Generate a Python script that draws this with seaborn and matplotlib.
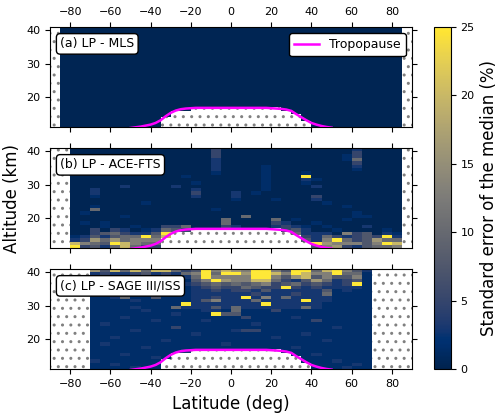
import numpy as np
import matplotlib
matplotlib.use('Agg')
import matplotlib.pyplot as plt
from matplotlib.patches import Rectangle
import seaborn as sns

# grid: 5 deg latitude bins (-90..90), 1 km altitude bins (11..41)
lat_edges = np.arange(-90, 91, 5)
alt_edges = np.arange(11, 42, 1)

# colour level of each cell, '.' = no data
level_values = {'0': 0.3, '1': 1.5, '2': 3, '3': 5, '4': 7.5, '5': 10,
                '6': 13, '7': 16, '8': 20, '9': 25, '.': np.nan}

# rows from 40-41 km (top) down to 11-12 km (bottom)
mls_rows = [
    ".0000 00000 00000 00000 00000 00000 00000 .",
    ".0000 00000 00000 00000 00000 00000 00000 .",
    ".0000 00000 00000 00000 00000 00000 00000 .",
    ".0000 00000 00000 00000 00000 00000 00000 .",
    ".0000 00000 00000 00000 00000 00000 00000 .",
    ".0000 00000 00000 00000 00000 00000 00000 .",
    ".0000 00000 00000 00000 00000 00000 00000 .",
    ".0000 00000 00000 00000 00000 00000 00000 .",
    ".0000 00000 00000 00000 00000 00000 00000 .",
    ".0000 00000 00000 00000 00000 00000 00000 .",
    ".0000 00000 00000 00000 00000 00000 00000 .",
    ".0000 00000 00000 00000 00000 00000 00000 .",
    ".0000 00000 00000 00000 00000 00000 00000 .",
    ".0000 00000 00000 00000 00000 00000 00000 .",
    ".0000 00000 00000 00000 00000 00000 00000 .",
    ".0000 00000 00000 00000 00000 00000 00000 .",
    ".0000 00000 00000 00000 00000 00000 00000 .",
    ".0000 00000 00000 00000 00000 00000 00000 .",
    ".0000 00000 00000 00000 00000 00000 00000 .",
    ".0000 00000 00000 00000 00000 00000 00000 .",
    ".0000 00000 00000 00000 00000 00000 00000 .",
    ".0000 00000 00000 00000 00000 00000 00000 .",
    ".0000 00000 00000 00000 00000 00000 00000 .",
    ".0000 00000 00000 00000 00000 00000 00000 .",
    ".0000 00000 00000 00000 00000 00000 00000 .",
    ".0000 00000 00000 00000 00000 00000 00000 .",
    ".0000 00000 00000 00000 00000 00000 00000 .",
    ".0000 00000 00000 00000 00000 00000 00000 .",
    ".0000 00000 00000 00000 00000 00000 00000 .",
    ".0000 00000 00000 00000 00000 00000 00000 .",
]

ace_rows = [
    "..000 00000 00000 03000 00000 00000 20000 .",
    "..000 00000 00000 03000 00000 00000 30000 .",
    "..000 00000 00000 03000 00000 00001 30000 .",
    "..000 00000 00000 02000 00000 00001 50000 .",
    "..000 00000 00000 02000 00000 00000 30000 .",
    "..000 00000 00000 02000 01000 00000 20000 .",
    "..000 00000 00000 02000 01000 00000 10000 .",
    "..000 00000 00000 01000 01000 10000 00000 .",
    "..000 00000 00010 00000 01000 90000 00000 .",
    "..000 00000 00000 00000 01000 21000 00000 .",
    "..000 00000 00001 00000 01000 10000 00000 .",
    "..000 00200 00200 00000 01000 02000 00000 .",
    "..002 00000 00002 00000 01000 00000 00000 .",
    "..002 00000 00003 00020 10000 00000 00000 .",
    "..001 00000 00002 00020 00000 03000 00000 .",
    "..000 00000 00000 00010 00100 02000 00000 .",
    "..000 00001 00000 00000 00000 00100 00000 .",
    "..001 00000 00000 00000 00000 00001 00000 .",
    "..005 00000 00000 01000 00000 00000 00000 .",
    "..010 00000 00000 00000 00000 00000 10000 .",
    "..000 00100 00000 00005 00000 00000 11000 .",
    "..000 00000 00000 00500 00501 00001 00000 .",
    "..010 10000 00000 00500 00320 01000 00000 .",
    "..000 10010 03350 00320 00232 10100 02000 .",
    "..003 03201 25430 00000 00034 20010 00010 .",
    "..003 45322 49000 00000 00005 22206 34021 .",
    "..124 24559 58000 00000 00000 32532 34392 .",
    "..237 57566 60000 00000 00000 42695 34755 .",
    "..865 49865 50000 00000 00000 09766 64698 .",
    "..934 25853 30000 00000 00000 04673 24556 .",
]

sage_rows = [
    "....7 48585 88534 96876 99649 95896 42... .",
    "....2 32234 23256 95997 99869 86695 51... .",
    "....1 12122 12225 96666 99647 84644 61... .",
    "....1 11112 11114 69766 88532 47523 41... .",
    "....1 11111 11123 45454 56345 34323 91... .",
    "....1 11111 11112 34335 43393 23222 21... .",
    "....1 12111 11112 23233 24222 22412 11... .",
    "....1 11111 11112 22222 32223 22511 11... .",
    "....1 12511 41112 23229 26252 22211 11... .",
    "....1 11121 11112 46222 52222 92211 11... .",
    "....1 11111 11192 22222 29222 22111 11... .",
    "....1 11121 11522 24252 22222 52111 11... .",
    "....1 11112 11111 22151 11311 11111 11... .",
    "....1 11111 11211 19441 11111 11111 11... .",
    "....1 11211 11111 11113 11112 11111 11... .",
    "....1 11111 21111 21111 11111 13111 11... .",
    "....1 21111 11111 11111 21111 11111 11... .",
    "....1 11111 11311 11111 11111 11121 11... .",
    "....1 11121 11111 11123 31111 11111 11... .",
    "....1 11111 11112 11111 11111 21111 11... .",
    "....1 12111 11111 11111 11211 11111 11... .",
    "....1 11111 12111 11111 11111 11211 11... .",
    "....1 21111 11111 11211 11111 11111 11... .",
    "....1 11112 11111 11111 11112 11111 11... .",
    "....1 11111 11121 11111 11111 11111 11... .",
    "....1 11211 11111 11111 11111 12111 11... .",
    "....1 11111 21111 11111 11111 11111 11... .",
    "....2 11111 11111 11111 11111 11121 11... .",
    "....1 12111 11111 11111 11111 11111 21... .",
    "....1 11121 11111 11111 11111 11112 11... .",
]

# number of empty bins below the tropopause, per latitude bin
below_trop_rows = [0, 0, 0, 0, 0, 0, 0, 0, 0, 0, 0, 3, 5, 5, 6, 6, 6, 6,
                   6, 6, 6, 6, 6, 5, 4, 2, 0, 0, 0, 0, 0, 0, 0, 0, 0, 0]

trop_lat = [-50, -47.5, -45, -42.5, -40, -37.5, -35, -32.5, -30, -27.5, -25,
            -22.5, -20, -17.5, -15, -12.5, -10, -7.5, -5, -2.5, 0, 2.5, 5,
            7.5, 10, 12.5, 15, 17.5, 20, 22.5, 25, 27.5, 30, 32.5, 35, 37.5,
            40, 42.5, 45, 47.5, 50]
trop_alt = [10.8, 11.0, 11.2, 11.5, 11.8, 12.3, 13.1, 14.3, 15.3, 16.0, 16.4,
            16.6, 16.7, 16.8, 16.8, 16.8, 16.8, 16.8, 16.8, 16.8, 16.8, 16.8,
            16.8, 16.8, 16.8, 16.8, 16.8, 16.8, 16.7, 16.6, 16.5, 16.3, 15.9,
            14.9, 14.0, 13.1, 12.3, 11.8, 11.4, 11.1, 10.9]

panel_labels = ['(a) LP - MLS', '(b) LP - ACE-FTS', '(c) LP - SAGE III/ISS']


def decode(rows):
    grid = []
    for r in rows:
        r = r.replace(' ', '')
        assert len(r) == 36, r
        grid.append([level_values[c] for c in r])
    grid = np.array(grid)[::-1]  # bottom bin first
    for j, n in enumerate(below_trop_rows):
        grid[:n, j] = np.nan
    return grid


grids = [decode(mls_rows), decode(ace_rows), decode(sage_rows)]

plt.rcParams['hatch.color'] = 'grey'
plt.rcParams['hatch.linewidth'] = 1.0

fig = plt.figure(figsize=(5, 4.17), dpi=100)
rects = [[0.1, 0.6947, 0.724, 0.241],
         [0.1, 0.4046, 0.724, 0.241],
         [0.1, 0.1144, 0.724, 0.241]]

for i, (rect, grid, lab) in enumerate(zip(rects, grids, panel_labels)):
    ax = fig.add_axes(rect)
    ax.add_patch(Rectangle((0, 0), 1, 1, transform=ax.transAxes,
                           facecolor='white', edgecolor='grey', hatch='..',
                           linewidth=0, zorder=0))
    mesh = ax.pcolormesh(lat_edges, alt_edges, np.ma.masked_invalid(grid),
                         cmap='cividis', vmin=0, vmax=25, zorder=1)
    if i == 0:
        sns.lineplot(x=trop_lat, y=trop_alt, color='magenta', linewidth=1.8,
                     ax=ax, label='Tropopause', zorder=3)
        ax.legend(loc='upper right', fontsize=9, framealpha=1, edgecolor='k')
    else:
        sns.lineplot(x=trop_lat, y=trop_alt, color='magenta', linewidth=1.8,
                     ax=ax, legend=False, zorder=3)
    ax.text(0.028, 0.83, lab, transform=ax.transAxes, fontsize=9,
            va='center', ha='left', zorder=4,
            bbox=dict(boxstyle='round', facecolor='white', edgecolor='k'))
    ax.set_xlim(-90, 90)
    ax.set_ylim(11, 41)
    ax.set_xticks(np.arange(-80, 81, 20))
    ax.set_yticks([20, 30, 40])
    ax.tick_params(top=True, right=True, labelsize=8)
    ax.set_xlabel('')
    ax.set_ylabel('')
    if i == 0:
        ax.tick_params(labeltop=True, labelbottom=False)
    elif i == 1:
        ax.tick_params(labelbottom=False)
        ax.set_ylabel('Altitude (km)', fontsize=12)
    else:
        ax.set_xlabel('Latitude (deg)', fontsize=12)

cax = fig.add_axes([0.868, 0.1144, 0.0334, 0.8216])
cb = fig.colorbar(mesh, cax=cax, ticks=[0, 5, 10, 15, 20, 25])
cb.set_label('Standard error of the median (%)', fontsize=12)
cb.ax.tick_params(labelsize=8)

fig.savefig('out.png', dpi=100)
